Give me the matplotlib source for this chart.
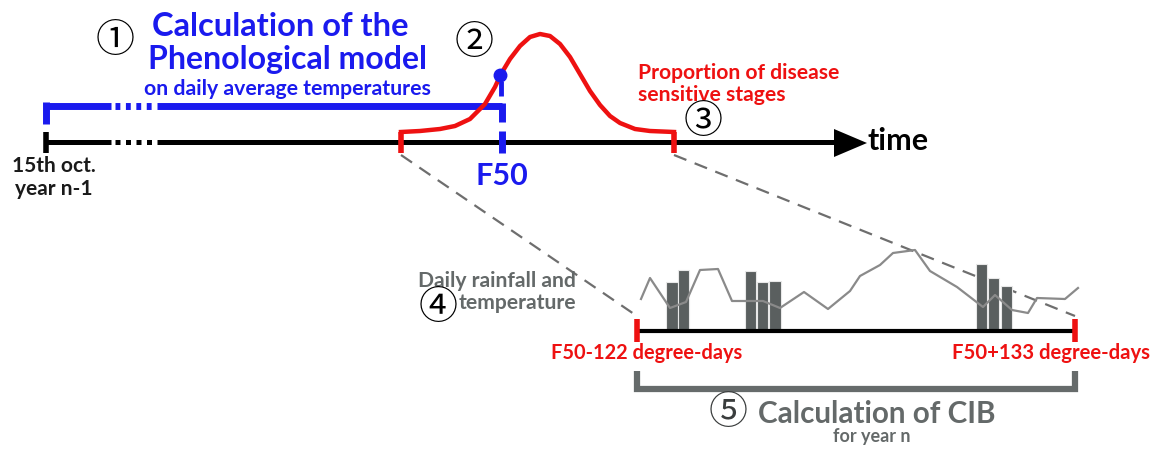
import matplotlib.pyplot as plt

# red curve: proportion of disease sensitive stages (pixel coords of the picture)
stage_x = [401, 420, 440, 455, 470, 485, 495, 501, 510, 520, 530, 540, 550, 560, 570, 580, 590, 600, 610, 620, 635, 650, 674]
stage_y = [133, 132, 130, 127, 120, 105, 88, 75, 60, 47, 38, 35, 37, 45, 58, 75, 92, 106, 117, 124, 130, 132, 133]

# daily temperature trace
temp_x = [641, 650, 670, 686, 700, 718, 732, 763, 780, 804, 828, 850, 860, 880, 893, 915, 930, 957, 983, 995, 1012, 1028, 1037, 1065, 1078]
temp_y = [300, 279, 309, 303, 271, 270, 302, 302, 309, 293, 310, 292, 277, 266, 254, 251, 272, 288, 308, 296, 311, 314, 299, 300, 289]

# daily rainfall bars
rain_x = [672, 683.5, 750.5, 762.5, 775, 981.5, 993.5, 1006.5]
rain_h = [48, 60, 59, 48, 49, 66, 52, 44]

blue = '#1a1aee'
red = '#ee1111'
grey = '#646969'
bar_grey = '#5a5f5f'
fnt = 'Lato'
circ = ['Noto Sans CJK JP', 'DejaVu Sans']

fig = plt.figure(figsize=(11.62, 4.52), dpi=100)
ax = fig.add_axes([0, 0, 1, 1])
ax.set_xlim(0, 1162)
ax.set_ylim(452, 0)
ax.axis('off')

# main timeline
ax.plot([46, 111], [143, 143], color='black', lw=3.6, solid_capstyle='butt')
ax.plot([115, 155], [143, 143], color='black', lw=3.6, ls=(0, (1, 1.1)), solid_capstyle='butt')
ax.plot([157, 836], [143, 143], color='black', lw=3.6, solid_capstyle='butt')
ax.fill([834, 834, 867], [130, 158, 144], color='black', lw=0)
ax.plot([46, 46], [133, 154], color='black', lw=4, solid_capstyle='butt')
ax.text(868, 141, 'time', fontsize=22, fontweight='bold', family=fnt, va='center', ha='left')
ax.text(54, 166, '15th oct.', fontsize=15, fontweight='bold', family=fnt, ha='center', va='center', color='#1a1a1a')
ax.text(54, 189, 'year n-1', fontsize=15, fontweight='bold', family=fnt, ha='center', va='center', color='#1a1a1a')

# blue bracket (phenological model)
ax.plot([46, 46], [103, 125], color=blue, lw=5, solid_capstyle='butt')
ax.plot([46, 111], [107, 107], color=blue, lw=5, solid_capstyle='butt')
ax.plot([115, 155], [107, 107], color=blue, lw=5, ls=(0, (0.7, 0.8)), solid_capstyle='butt')
ax.plot([157, 502], [107, 107], color=blue, lw=5, solid_capstyle='butt')
ax.plot([502, 502], [104, 123], color=blue, lw=5, solid_capstyle='butt')
ax.plot([502, 502], [132, 154], color=blue, lw=5, solid_capstyle='butt')
ax.plot([501, 501], [82, 97], color=blue, lw=3.5, solid_capstyle='butt')
ax.text(502, 176, 'F50', fontsize=22, fontweight='bold', family=fnt, color=blue, ha='center', va='center')

ax.text(280, 27, 'Calculation of the', fontsize=23.5, fontweight='bold', family=fnt, color=blue, ha='center', va='center')
ax.text(287, 60, 'Phenological model', fontsize=23, fontweight='bold', family=fnt, color=blue, ha='center', va='center')
ax.text(287, 89, 'on daily average temperatures', fontsize=15.3, fontweight='bold', family=fnt, color=blue, ha='center', va='center')
ax.text(115, 41, '\u2460', fontsize=28, family=circ, ha='center', va='center')
ax.text(474, 43, '\u2461', fontsize=28, family=circ, ha='center', va='center')

# red curve and its ends
ax.plot(stage_x, stage_y, color=red, lw=3.2, solid_joinstyle='round')
ax.plot([401, 401], [133, 154], color=red, lw=4, solid_capstyle='butt')
ax.plot([674, 674], [133, 154], color=red, lw=4, solid_capstyle='butt')
ax.plot([500], [76], 'o', color=blue, ms=9, zorder=5)
ax.text(638, 73, 'Proportion of disease', fontsize=15.2, fontweight='bold', family=fnt, color=red, ha='left', va='center')
ax.text(638, 95, 'sensitive stages', fontsize=15.2, fontweight='bold', family=fnt, color=red, ha='left', va='center')
ax.text(703, 122, '\u2462', fontsize=28, family=circ, ha='center', va='center')

# zoom lines
ax.plot([401, 634], [156, 315], color='#6e6e6e', lw=1.6, ls=(0, (6, 4)))
ax.plot([674, 1075], [156, 317], color='#6e6e6e', lw=1.6, ls=(0, (6, 4)))

# lower timeline
ax.bar(rain_x, [-h for h in rain_h], bottom=331, width=11.5, color=bar_grey, edgecolor='#e8e8e8', lw=0.8, zorder=2)
ax.plot(temp_x, temp_y, color='#8a8a8a', lw=1.6, zorder=3)
ax.plot([637, 1075], [332, 332], color='black', lw=3, solid_capstyle='butt', zorder=4)
ax.plot([637, 637], [320, 343], color=red, lw=4, solid_capstyle='butt', zorder=5)
ax.plot([1075, 1075], [320, 343], color=red, lw=4, solid_capstyle='butt', zorder=5)

ax.text(576, 281, 'Daily rainfall and', fontsize=15.2, fontweight='bold', family=fnt, color=grey, ha='right', va='center')
ax.text(576, 303, 'temperature', fontsize=15.2, fontweight='bold', family=fnt, color=grey, ha='right', va='center')
ax.text(438, 308, '\u2463', fontsize=28, family=circ, ha='center', va='center')

ax.text(647, 353, 'F50-122 degree-days', fontsize=14.4, fontweight='bold', family=fnt, color=red, ha='center', va='center')
ax.text(1051, 353, 'F50+133 degree-days', fontsize=14.6, fontweight='bold', family=fnt, color=red, ha='center', va='center')

# grey bracket (CIB)
ax.plot([637, 637, 1075, 1075], [372, 390, 390, 372], color='#666b6b', lw=4.5, solid_joinstyle='miter', solid_capstyle='butt')
ax.text(728, 413, '\u2464', fontsize=28, family=circ, color='#3a3d3d', ha='center', va='center')
ax.text(877, 414, 'Calculation of CIB', fontsize=21.3, fontweight='bold', family=fnt, color=grey, ha='center', va='center')
ax.text(872, 437, 'for year n', fontsize=13, fontweight='bold', family=fnt, color=grey, ha='center', va='center')

plt.savefig('out.png', dpi=100)
